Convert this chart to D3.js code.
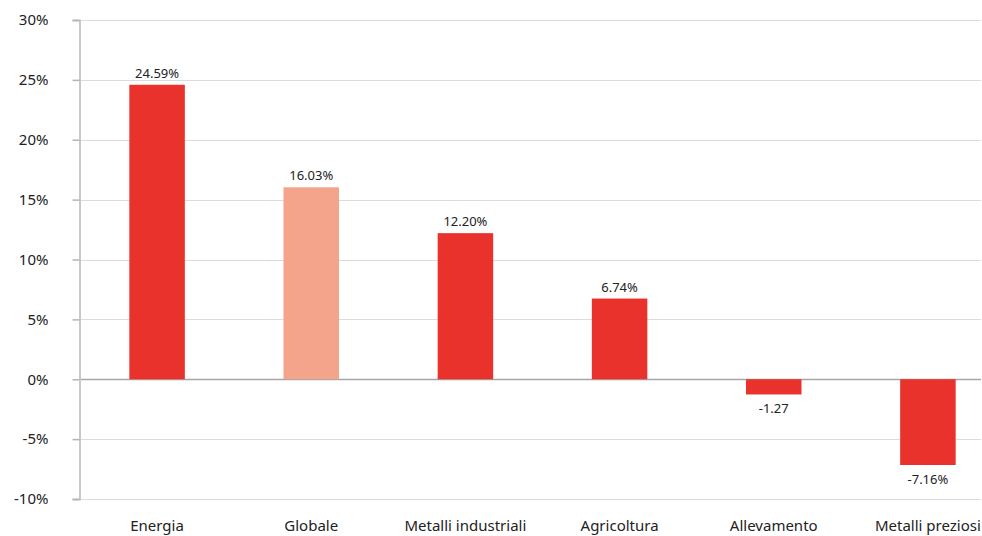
<html>
  <head>
    <meta charset="utf-8">
    <script src="https://d3js.org/d3.v7.min.js"></script>
    <style>
      body { margin: 0; background: #fff; font-family: "Noto Sans", "DejaVu Sans", sans-serif; }
    </style>
  </head>
  <body>
    <div id="chart"></div>
  </body>
  <script>
    // data
    const categories = ["Energia", "Globale", "Metalli industriali", "Agricoltura", "Allevamento", "Metalli preziosi"]
    const values = [24.59, 16.03, 12.20, 6.74, -1.27, -7.16]
    const valueLabels = ["24.59%", "16.03%", "12.20%", "6.74%", "-1.27", "-7.16%"]
    const highlight = ["Globale"]
    const yTicks = [-10, -5, 0, 5, 10, 15, 20, 25, 30]

    const W = 982, H = 536

    const svg = d3.select("#chart").append("svg")
      .attr("width", W).attr("height", H)

    const x = d3.scaleBand()
      .domain(categories)
      .range([80, 1005])
      .paddingInner(0.64)
      .paddingOuter(0.32)

    const y = d3.scaleLinear()
      .domain([-10, 30])
      .range([499, 20])

    // gridlines
    svg.append("g").selectAll("line")
      .data(yTicks)
      .join("line")
        .attr("x1", 80).attr("x2", 981)
        .attr("y1", d => Math.round(y(d)) + 0.5)
        .attr("y2", d => Math.round(y(d)) + 0.5)
        .attr("stroke", d => d === 0 ? "#a6a6a6" : "#dcdcdc")
        .attr("stroke-width", d => d === 0 ? 1.5 : 1.2)

    // y axis
    const yAxis = d3.axisLeft(y)
      .tickValues(yTicks)
      .tickSize(7)
      .tickPadding(24)
      .tickFormat(d => d + "%")
    const gy = svg.append("g")
      .attr("transform", "translate(79.5,0)")
      .call(yAxis)
    gy.select(".domain").attr("stroke", "#c8c8c8").attr("stroke-width", 2)
    gy.selectAll(".tick line").attr("stroke", "#b5b5b5").attr("stroke-width", 1.5)
    gy.selectAll(".tick text")
      .attr("fill", "#222")
      .style("font-size", "15px")
      .style("font-family", "'Noto Sans', sans-serif")

    // bars
    svg.append("g").selectAll("rect")
      .data(categories)
      .join("rect")
        .attr("x", d => x(d))
        .attr("width", x.bandwidth())
        .attr("y", (d, i) => values[i] >= 0 ? y(values[i]) : y(0))
        .attr("height", (d, i) => Math.abs(y(values[i]) - y(0)))
        .attr("fill", d => highlight.includes(d) ? "#f4a48a" : "#e8322b")

    // value labels
    svg.append("g").selectAll("text")
      .data(categories)
      .join("text")
        .attr("x", d => x(d) + x.bandwidth() / 2)
        .attr("y", (d, i) => values[i] >= 0 ? y(values[i]) - 7 : y(values[i]) + 19)
        .attr("text-anchor", "middle")
        .attr("fill", "#222")
        .style("font-size", "13px")
        .text((d, i) => valueLabels[i])

    // category labels
    svg.append("g").selectAll("text")
      .data(categories)
      .join("text")
        .attr("x", d => x(d) + x.bandwidth() / 2)
        .attr("y", 531)
        .attr("text-anchor", "middle")
        .attr("fill", "#222")
        .style("font-size", "15px")
        .text(d => d)
  </script>
</html>
